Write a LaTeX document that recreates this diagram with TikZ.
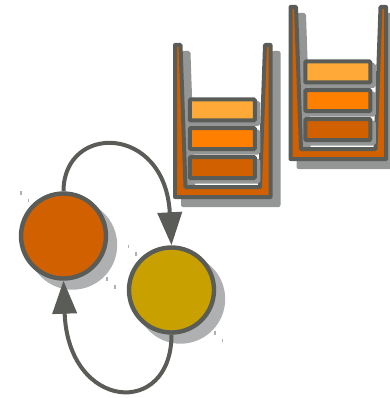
\documentclass[tikz,border=0pt]{standalone}
\usetikzlibrary{positioning,arrows.meta,shadows}
\definecolor{inkgray}{HTML}{5A5C58}
\definecolor{shadowgray}{HTML}{AEB0B1}
\definecolor{bucketorange}{HTML}{D06000}
\definecolor{cardlight}{HTML}{FFAA38}
\definecolor{cardmid}{HTML}{FF7F00}
\definecolor{cardgold}{HTML}{C8A000}

\begin{document}
\begin{tikzpicture}[
    x=1pt, y=-1pt,
    state/.style={
        circle, draw=inkgray, fill=#1, line width=4.4pt, inner sep=0pt, minimum size=85pt,
        general shadow={shadow xshift=9pt, shadow yshift=-9pt, fill=shadowgray, draw=shadowgray}
    },
    card/.style={
        draw=inkgray, fill=#1, line width=4pt, rounded corners=1pt, inner sep=0pt,
        minimum width=65pt, minimum height=21pt,
        general shadow={shadow xshift=3.5pt, shadow yshift=-3.5pt, fill=shadowgray!85!black, draw=shadowgray!85!black}
    },
    conn/.style={-{Triangle[length=33pt, width=24pt]}, draw=inkgray, line width=4pt},
    bucket/.style={draw=inkgray, fill=bucketorange, line width=4pt, line join=round},
    bucketshade/.style={draw=shadowgray!85!black, fill=shadowgray!85!black, line width=4pt, line join=round},
    speck/.style={draw=shadowgray, line width=1.3pt},
]
\useasboundingbox (0,0) rectangle (389,398);

% buckets
\foreach \bname/\dx/\dy in {a/0/0, b/115.5/-38}{
    \begin{scope}[shift={(\dx,\dy)}]
    \draw[bucketshade, shift={(8,8)}] (175,45) -- (175,197) -- (270.5,197) -- (270.5,45)
        -- (265,45) -- (260,187) -- (185.5,187) -- (180.5,45) -- cycle;
    \draw[bucket] (175,45) -- (175,197) -- (270.5,197) -- (270.5,45)
        -- (265,45) -- (260,187) -- (185.5,187) -- (180.5,45) -- cycle;
    \node[card=cardlight] (\bname top) at (222.3,110) {};
    \node[card=cardmid, below=3.6pt of \bname top] (\bname mid) {};
    \node[card=bucketorange, below=4pt of \bname mid] (\bname low) {};
    \end{scope}
}

% states
\node[state=bucketorange] (run) at (63.5,236) {};
\node[state=cardgold] (wait) at (171.5,290) {};

% specks
\foreach \sx/\sy in {21/193, 28.5/200.5, 128.5/246.5, 136/254, 107/279, 115/287, 215/333, 222.5/340.5}
    \draw[speck] (\sx,\sy-1.8) -- (\sx,\sy+1.8);

% transitions
\draw[conn] (run.north) to[out=90, in=93, out distance=68pt, in distance=122pt] (wait.north);
\draw[conn] (wait.south) to[out=-90, in=-88, out distance=84pt, in distance=130pt] (run.south);

\end{tikzpicture}
\end{document}
